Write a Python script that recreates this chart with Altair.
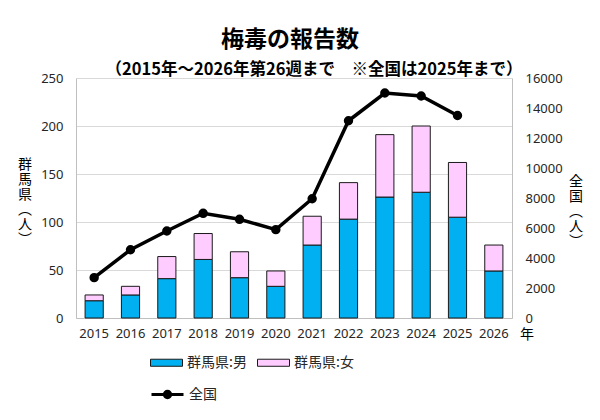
import altair as alt
import pandas as pd

# Reported syphilis cases: Gunma prefecture (by sex) and the national total
years = [str(y) for y in range(2015, 2027)]
gunma_male = [18, 24, 41, 61, 42, 33, 76, 103, 126, 131, 105, 49]
gunma_female = [6, 9, 23, 27, 27, 16, 30, 38, 65, 69, 57, 27]
national_years = [str(y) for y in range(2015, 2026)]
national = [2690, 4550, 5800, 6980, 6580, 5890, 7950, 13150, 15000, 14800, 13500]

series_male = "群馬県:男"
series_female = "群馬県:女"
series_national = "全国"

bar_df = pd.DataFrame(
    {
        "年": years * 2,
        "人数": gunma_male + gunma_female,
        "区分": [series_male] * len(years) + [series_female] * len(years),
        "順": [0] * len(years) + [1] * len(years),
    }
)
nat_df = pd.DataFrame({"年": national_years, "全国": national, "系列": series_national})

FONT_JP = "Noto Sans CJK JP"
FONT_NUM = "Noto Sans"
W, H = 436, 240

x_enc = alt.X(
    "年:N",
    sort=years,
    scale=alt.Scale(domain=years, paddingInner=0.5, paddingOuter=0.25),
    axis=alt.Axis(
        title=None, labelAngle=0, ticks=False, labelPadding=9,
        labelFont=FONT_NUM, labelFontSize=13, labelColor="#262626",
        domainColor="#bfbfbf", domainWidth=1,
    ),
)

bars = alt.Chart(bar_df).mark_bar(stroke="#1a1a1a", strokeWidth=1).encode(
    x=x_enc,
    y=alt.Y(
        "人数:Q",
        stack="zero",
        scale=alt.Scale(domain=[0, 250]),
        axis=alt.Axis(
            title=None, values=[0, 50, 100, 150, 200, 250], ticks=False,
            labelPadding=13, labelFont=FONT_NUM, labelFontSize=13, labelColor="#262626",
            grid=True, gridColor="#d9d9d9", gridWidth=1,
            domainColor="#bfbfbf", domainWidth=1,
        ),
    ),
    fill=alt.Fill(
        "区分:N",
        sort=[series_male, series_female],
        scale=alt.Scale(domain=[series_male, series_female], range=["#00B0F0", "#FFCCFF"]),
        legend=alt.Legend(
            title=None, orient="none", legendX=74, legendY=268,
            direction="horizontal", columns=2, columnPadding=8,
            symbolType="M-1,-0.22H1V0.22H-1Z", symbolSize=1024,
            symbolStrokeColor="#1a1a1a", symbolStrokeWidth=1,
            labelFont=FONT_JP, labelFontSize=14, labelColor="#262626", labelOffset=4,
        ),
    ),
    order=alt.Order("順:Q"),
)

line = alt.Chart(nat_df).mark_line(
    strokeWidth=3.5,
    point=alt.OverlayMarkDef(filled=True, size=55, color="black"),
).encode(
    x=alt.X("年:N", sort=years),
    y=alt.Y(
        "全国:Q",
        scale=alt.Scale(domain=[0, 16000]),
        axis=alt.Axis(
            title=None, orient="right", values=list(range(0, 16001, 2000)), format="d",
            ticks=False, labelPadding=13, labelFont=FONT_NUM, labelFontSize=13,
            labelColor="#262626", grid=False, domainColor="#bfbfbf", domainWidth=1,
        ),
    ),
    stroke=alt.Stroke(
        "系列:N",
        scale=alt.Scale(domain=[series_national], range=["black"]),
        legend=alt.Legend(
            title=None, orient="none", legendX=74, legendY=299,
            symbolType="M-1,0H1M0.2,0A0.2,0.2,0,1,1,-0.2,0A0.2,0.2,0,1,1,0.2,0Z",
            symbolSize=1024, symbolStrokeWidth=3, symbolFillColor="black",
            labelFont=FONT_JP, labelFontSize=14, labelColor="#262626", labelOffset=4,
        ),
    ),
)

def label(text, x, y, size, weight="normal", baseline="middle", line_height=None):
    mark_args = dict(
        font=FONT_JP, fontSize=size, fontWeight=weight, color="black",
        align="center", baseline=baseline,
    )
    if line_height:
        mark_args["lineHeight"] = line_height
    return alt.Chart(pd.DataFrame({"t": [0]})).mark_text(**mark_args).encode(
        x=alt.value(x), y=alt.value(y), text=alt.value(text)
    )

title = label("梅毒の報告数", 214, -38, 23, "bold")
subtitle = label("（2015年～2026年第26週まで　※全国は2025年まで）", 238, -8, 16.5, "bold")
left_title = label(["群", "馬", "県", "︵", "人", "︶"], -51, 80, 14, baseline="top", line_height=15)
right_title = label(["全", "国", "︵", "人", "︶"], 500, 97, 14, baseline="top", line_height=15)
year_unit = label("年", 451, 257, 14)

chart = (
    alt.layer(bars, line, title, subtitle, left_title, right_title, year_unit)
    .resolve_scale(y="independent", fill="independent", stroke="independent")
    .properties(
        width=W, height=H,
        autosize=alt.AutoSizeParams(type="none"),
        padding={"left": 76, "top": 78, "right": 88, "bottom": 102},
        background="white",
    )
    .configure_view(stroke=None)
)

chart.save("out.html", embed_options={"renderer": "svg", "actions": False})
